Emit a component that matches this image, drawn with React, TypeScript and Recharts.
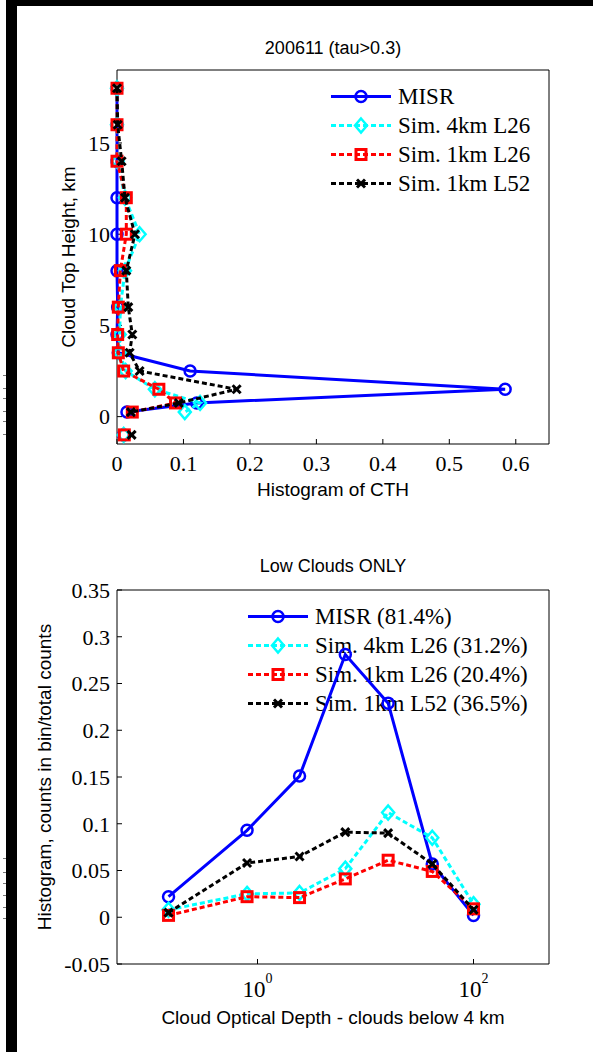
import React from 'react'
import { ScatterChart, Scatter, XAxis, YAxis } from 'recharts'

const SERIF = '"Liberation Serif", "Times New Roman", serif'
const SANS = '"Liberation Sans", Arial, sans-serif'

// top panel: cloud-top-height histogram, one value per CTH bin (km)
const cthLevels = [18, 16, 14, 12, 10, 8, 6, 4.5, 3.5, 2.5, 1.5, 0.75, 0.25]
const cthMisr = [0, 0, 0, 0, 0, 0, 0.001, 0, 0.002, 0.11, 0.584, 0.12, 0.015]
const cthSim4kmL26 = [0, 0, 0.001, 0.012, 0.034, 0.012, 0.005, 0.004, 0.004, 0.013, 0.057, 0.125, 0.102]
const cthSim1kmL26 = [0, 0, 0, 0.014, 0.014, 0.005, 0.002, 0.001, 0.002, 0.01, 0.063, 0.088, 0.023]
const cthSim1kmL52 = [0, 0.001, 0.007, 0.012, 0.027, 0.014, 0.017, 0.023, 0.019, 0.034, 0.18, 0.093, 0.021]
// "no height" bin, plotted on its own at -1 km (MISR, 4km L26, 1km L26, 1km L52)
const noHeightLevel = -1
const noHeightShare = [0.01, 0.01, 0.011, 0.022]
const cthTicksX = [0, 0.1, 0.2, 0.3, 0.4, 0.5, 0.6]
const cthTicksY = [0, 5, 10, 15]

// bottom panel: optical depth histogram for clouds below 4 km
const tauMid = [0.15, 0.8, 2.45, 6.5, 16.2, 41.5, 100]
const lowMisr = [0.022, 0.093, 0.151, 0.281, 0.229, 0.057, 0.002]
const lowSim4kmL26 = [0.008, 0.025, 0.026, 0.052, 0.112, 0.085, 0.014]
const lowSim1kmL26 = [0.002, 0.022, 0.021, 0.041, 0.061, 0.049, 0.009]
const lowSim1kmL52 = [0.005, 0.058, 0.065, 0.091, 0.09, 0.057, 0.008]
const lowTicksX = [1, 100]
const lowTicksY = [-0.05, 0, 0.05, 0.1, 0.15, 0.2, 0.25, 0.3, 0.35]

const seriesNames = ['MISR', 'Sim. 4km L26', 'Sim. 1km L26', 'Sim. 1km L52']
const lowShares = ['81.4%', '31.2%', '20.4%', '36.5%']

type MarkerKind = 'circle' | 'diamond' | 'square' | 'cross'
const styles: { color: string; dash?: string; marker: MarkerKind }[] = [
  { color: '#0000ff', marker: 'circle' },
  { color: '#00ffff', dash: '5 3', marker: 'diamond' },
  { color: '#ff0000', dash: '5 3', marker: 'square' },
  { color: '#000000', dash: '5 3', marker: 'cross' },
]

function Glyph({ kind, color, cx, cy }: { kind: MarkerKind; color: string; cx: number; cy: number }) {
  if (kind === 'circle')
    return <circle cx={cx} cy={cy} r={5.5} fill="none" stroke={color} strokeWidth={2.5} />
  if (kind === 'diamond')
    return (
      <polygon
        points={`${cx},${cy - 7} ${cx + 6},${cy} ${cx},${cy + 7} ${cx - 6},${cy}`}
        fill="none" stroke={color} strokeWidth={2.5}
      />
    )
  if (kind === 'square')
    return <rect x={cx - 5} y={cy - 5} width={10} height={10} fill="none" stroke={color} strokeWidth={3} />
  return (
    <g stroke={color} strokeWidth={3}>
      <line x1={cx - 4} y1={cy - 4} x2={cx + 4} y2={cy + 4} />
      <line x1={cx - 4} y1={cy + 4} x2={cx + 4} y2={cy - 4} />
    </g>
  )
}

function KeyBox({ labels, left, top }: { labels: string[]; left: number; top: number }) {
  return (
    <div style={{ position: 'absolute', left, top }}>
      {labels.map((label, i) => (
        <div key={label} style={{ display: 'flex', alignItems: 'center', height: 29 }}>
          <svg width={60} height={29}>
            <line x1={0} y1={14.5} x2={60} y2={14.5} stroke={styles[i].color} strokeWidth={3} strokeDasharray={styles[i].dash} />
            <Glyph kind={styles[i].marker} color={styles[i].color} cx={30} cy={14.5} />
          </svg>
          <span style={{ fontFamily: SERIF, fontSize: 23, marginLeft: 7, whiteSpace: 'nowrap', lineHeight: '29px' }}>{label}</span>
        </div>
      ))}
    </div>
  )
}

const tickFont = { fontFamily: SERIF, fontSize: 22, fill: '#000' }
const labelFont = { fontFamily: SANS, fontSize: 19, fill: '#000' }

function PowerTick(props: any) {
  const { x, y, payload } = props
  const exp = Math.round(Math.log10(payload.value))
  return (
    <text x={x} y={y} textAnchor="middle" fontFamily={SERIF} fill="#000">
      <tspan fontSize={23} dy={16}>10</tspan>
      <tspan fontSize={14} dy={-14}>{exp}</tspan>
    </text>
  )
}

function series(xs: number[], ys: number[]) {
  return xs.map((x, i) => ({ x, y: ys[i] }))
}

function markerProps(i: number) {
  const s = styles[i]
  return {
    fill: s.color,
    shape: (p: any) => <Glyph kind={s.marker} color={s.color} cx={p.cx} cy={p.cy} />,
    isAnimationActive: false,
  }
}

function seriesProps(i: number) {
  const s = styles[i]
  return {
    ...markerProps(i),
    line: { stroke: s.color, strokeWidth: 3, strokeDasharray: s.dash },
    lineType: 'joint' as const,
  }
}

// invisible series bound to the top/right axes so the box edges get drawn
const Nothing = () => <g />

function CthPanel() {
  const sets = [cthMisr, cthSim4kmL26, cthSim1kmL26, cthSim1kmL52]
  return (
    <ScatterChart width={593} height={520} margin={{ top: 69, right: 43, bottom: 36, left: 57 }}>
      <XAxis
        xAxisId="b" type="number" dataKey="x" domain={[0, 0.65]} ticks={cthTicksX}
        height={40} tickSize={-5} tickMargin={16} tick={tickFont} stroke="#000"
        label={{ value: 'Histogram of CTH', position: 'insideBottom', offset: -12, style: labelFont }}
      />
      <XAxis
        xAxisId="t" orientation="top" type="number" dataKey="x" domain={[0, 0.65]} ticks={cthTicksX}
        height={1} tickSize={-5} tick={false} stroke="#000"
        label={{ value: '200611 (tau>0.3)', position: 'top', offset: 15, style: { ...labelFont, fontSize: 18 } }}
      />
      <YAxis
        yAxisId="l" type="number" dataKey="y" domain={[-1.5, 19]} ticks={cthTicksY}
        width={60} tickSize={-5} tickMargin={12} tick={tickFont} stroke="#000"
        label={{ value: 'Cloud Top Height, km', angle: -90, position: 'insideLeft', offset: 11, style: { ...labelFont, textAnchor: 'middle' } }}
      />
      <YAxis
        yAxisId="r" orientation="right" type="number" dataKey="y" domain={[-1.5, 19]} ticks={cthTicksY}
        width={1} tickSize={-5} tick={false} stroke="#000"
      />
      <Scatter xAxisId="t" yAxisId="r" data={series(cthMisr, cthLevels)} shape={<Nothing />} isAnimationActive={false} />
      {sets.map((vals, i) => (
        <Scatter key={i} xAxisId="b" yAxisId="l" data={series(vals, cthLevels)} {...seriesProps(i)} />
      ))}
      {noHeightShare.map((v, i) => (
        <Scatter key={`nh${i}`} xAxisId="b" yAxisId="l" data={[{ x: v, y: noHeightLevel }]} {...markerProps(i)} />
      ))}
    </ScatterChart>
  )
}

function LowCloudPanel() {
  const sets = [lowMisr, lowSim4kmL26, lowSim1kmL26, lowSim1kmL52]
  return (
    <ScatterChart width={593} height={532} margin={{ top: 69, right: 43, bottom: 48, left: 57 }}>
      <XAxis
        xAxisId="b" type="number" scale="log" dataKey="x" domain={[0.05, 500]} ticks={lowTicksX}
        height={40} tickSize={-5} tickMargin={22} tick={<PowerTick />} stroke="#000"
        label={{ value: 'Cloud Optical Depth - clouds below 4 km', position: 'insideBottom', offset: -20, style: labelFont }}
      />
      <XAxis
        xAxisId="t" orientation="top" type="number" scale="log" dataKey="x" domain={[0.05, 500]} ticks={lowTicksX}
        height={1} tickSize={-5} tick={false} stroke="#000"
        label={{ value: 'Low Clouds ONLY', position: 'top', offset: 17, style: { ...labelFont, fontSize: 18 } }}
      />
      <YAxis
        yAxisId="l" type="number" dataKey="y" domain={[-0.05, 0.35]} ticks={lowTicksY}
        width={60} tickSize={-5} tickMargin={12} tick={tickFont} stroke="#000"
        label={{ value: 'Histogram, counts in bin/total counts', angle: -90, position: 'insideLeft', offset: -13, style: { ...labelFont, textAnchor: 'middle' } }}
      />
      <YAxis
        yAxisId="r" orientation="right" type="number" dataKey="y" domain={[-0.05, 0.35]} ticks={lowTicksY}
        width={1} tickSize={-5} tick={false} stroke="#000"
      />
      <Scatter xAxisId="t" yAxisId="r" data={series(tauMid, lowMisr)} shape={<Nothing />} isAnimationActive={false} />
      {sets.map((vals, i) => (
        <Scatter key={i} xAxisId="b" yAxisId="l" data={series(tauMid, vals)} {...seriesProps(i)} />
      ))}
    </ScatterChart>
  )
}

// stray tick marks along the left edge of the figure
const edgeMarks = [375, 388, 398, 411, 421, 434, 858, 872, 883, 895, 907, 918]

export default function App() {
  return (
    <div style={{ position: 'absolute', left: 0, top: 0, width: 593, height: 1052, background: '#fff', overflow: 'hidden' }}>
      <div style={{ position: 'absolute', left: 6, top: 0, width: 11, height: 1052, background: '#000' }} />
      <div style={{ position: 'absolute', left: 6, top: 0, width: 587, height: 6, background: '#000' }} />
      {edgeMarks.map(y => (
        <div key={y} style={{ position: 'absolute', left: 3, top: y, width: 3, height: 1, background: '#777' }} />
      ))}
      <KeyBox labels={seriesNames} left={331} top={82} />
      <KeyBox labels={seriesNames.map((n, i) => `${n} (${lowShares[i]})`)} left={248} top={602} />
      <div style={{ position: 'absolute', left: 0, top: 0 }}>
        <CthPanel />
      </div>
      <div style={{ position: 'absolute', left: 0, top: 520 }}>
        <LowCloudPanel />
      </div>
    </div>
  )
}
